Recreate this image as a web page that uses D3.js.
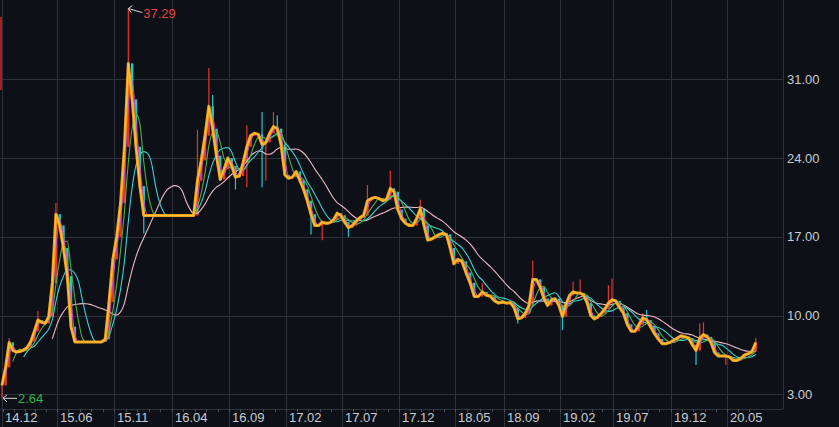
<!DOCTYPE html>
<html><head><meta charset="utf-8">
<script src="https://cdn.jsdelivr.net/npm/d3@7"></script>
<style>html,body{margin:0;padding:0;background:#0d1016;}svg{display:block}</style>
</head><body>
<svg id="c" width="839" height="427"></svg>
<script>
// ---- DATA ----
// close prices, one sample every 1/3 month starting end of Dec 2014
const closes = [
3.8,5.4,7.6,6.9,6.75,6.8,6.95,7.15,7.7,8.6,
9.6,9.4,9.3,9.9,12.9,19.0,18.0,16.0,13.5,9.0,
7.65,7.65,7.65,7.65,7.65,7.65,7.65,7.65,7.9,11.2,
15.0,17.0,20.0,25.0,32.4,29.2,25.0,21.5,18.9,18.9,
18.9,18.9,18.9,18.9,18.9,18.9,18.9,18.9,18.9,18.9,
18.9,18.9,22.0,23.8,26.0,28.6,26.6,24.2,22.1,23.0,
24.0,23.3,22.3,22.4,23.6,25.0,26.0,26.2,26.1,25.2,
25.4,26.2,26.8,26.6,25.2,22.5,22.2,22.3,22.8,22.0,
21.2,20.2,19.0,18.0,18.0,18.3,18.2,18.25,18.5,19.1,
18.9,18.3,17.8,18.0,18.4,18.7,18.9,20.2,20.4,20.5,
20.4,20.2,20.3,21.3,21.0,19.4,18.6,18.2,18.0,18.0,
18.6,19.5,18.0,16.7,16.8,17.0,17.2,17.3,17.2,16.0,
14.6,15.0,14.8,13.8,12.9,11.7,11.7,12.1,11.8,11.7,
11.3,11.1,11.2,11.1,11.15,10.7,9.7,9.8,10.2,10.9,
13.2,13.2,12.5,11.5,10.9,11.4,11.5,10.9,9.9,11.0,
11.8,12.1,12.0,12.0,11.8,11.1,10.0,9.7,9.9,10.2,
10.6,11.1,11.4,11.3,10.7,10.2,9.2,8.6,8.6,9.2,
9.8,9.6,9.0,8.4,7.9,7.5,7.5,7.6,7.8,8.0,
8.2,8.1,8.0,7.4,6.9,8.0,8.3,8.1,7.6,6.7,
6.4,6.4,6.4,6.3,6.0,6.0,6.2,6.5,6.6,6.8,
7.6];
const startMonth = 0.9;      // months after 2014-12-01
const monthsPerSample = 1/3;
// visible wicks [sample index, price]
const wickHigh = [[2,8.0],[10,10.4],[15,20.0],[34,37.29],[52,26.5],[55,32.0],[56,29.6],[65,26.9],[69,28.1],[72,28.1],[73,27.8],[97,21.6],[103,22.9],[111,20.3],[127,12.9],[140,14.9],[151,13.0],[153,13.2],[161,12.7],[162,13.3],[170,10.2],[171,10.5],[185,9.3],[186,9.4],[200,8.0]];
const wickLow = [[0,2.64],[38,17.3],[62,21.2],[65,21.4],[69,21.4],[70,22.0],[82,17.2],[85,16.7],[92,17.0],[136,9.3],[148,8.7],[184,5.6],[192,5.6]];
const tickLabels = ["14.12","15.06","15.11","16.04","16.09","17.02","17.07","17.12","18.05","18.09","19.02","19.07","19.12","20.05"];
const tickMonths = [0.9,6,11,16,21,26,31,36,41,45,50,55,60,65];
const yTicks = [3,10,17,24,31];
const maWindows = [15,7,4,2];
const maColors = ["#efb9c4","#3fd0d6","#4fb04a","#d23fd0"];
const highMark = {idx:34, value:37.29};
const lowMark = {idx:0, value:2.64};

// ---- LAYOUT ----
const W=839,H=427,plotRight=783,axisY=409;
const tickPx=[2,57,114,172,229,286,342,399,455,504,560,613,671,727];
const bg="#0d1016", grid="#2e323b", txt="#c9ccd2";
const font="'Liberation Sans', Arial, sans-serif";

const svg=d3.select("#c");
svg.append("rect").attr("width",W).attr("height",H).attr("fill",bg);

const x=d3.scaleLinear().domain(tickMonths).range(tickPx);
const y=d3.scaleLinear().domain([1.69,38.05]).range([axisY,0]);
const mOf=i=>startMonth+i*monthsPerSample;

// grid
svg.append("g").selectAll("line").data(yTicks).join("line")
  .attr("x1",0).attr("x2",plotRight).attr("y1",d=>Math.round(y(d))+0.5).attr("y2",d=>Math.round(y(d))+0.5)
  .attr("stroke",grid).attr("stroke-width",1);
svg.append("g").selectAll("line").data(tickMonths).join("line")
  .attr("x1",d=>Math.round(x(d))+0.5).attr("x2",d=>Math.round(x(d))+0.5).attr("y1",0).attr("y2",H)
  .attr("stroke",grid).attr("stroke-width",1);
svg.append("line").attr("x1",plotRight+0.5).attr("x2",plotRight+0.5).attr("y1",0).attr("y2",axisY).attr("stroke",grid);
svg.append("line").attr("x1",0).attr("x2",plotRight).attr("y1",axisY+0.5).attr("y2",axisY+0.5).attr("stroke",grid);
// minor month ticks
const months=d3.range(1,68);
svg.append("g").selectAll("line").data(months).join("line")
  .attr("x1",d=>Math.round(x(d))+0.5).attr("x2",d=>Math.round(x(d))+0.5).attr("y1",axisY).attr("y2",axisY+3)
  .attr("stroke","#4a4e57");

// labels
svg.append("g").selectAll("text").data(yTicks).join("text")
  .attr("x",plotRight+4).attr("y",d=>y(d)).attr("dy","0.35em")
  .attr("fill",txt).attr("font-family",font).attr("font-size",13)
  .text(d=>d3.format(".2f")(d));
svg.append("g").selectAll("text").data(tickLabels).join("text")
  .attr("x",(d,i)=>x(tickMonths[i])+3).attr("y",422)
  .attr("fill",txt).attr("font-family",font).attr("font-size",13)
  .text(d=>d);

// candles
const hiMap=new Map(wickHigh), loMap=new Map(wickLow);
const candles=closes.map((c,i)=>{
  const o=i>0?closes[i-1]:c;
  const hi=hiMap.has(i)?hiMap.get(i):Math.max(o,c);
  const lo=loMap.has(i)?loMap.get(i):Math.min(o,c);
  return {i,o,c,hi,lo,up:c>=o};
});
const up="#e8352c", dn="#22c9c9";
const cg=svg.append("g");
cg.selectAll("line").data(candles).join("line")
  .attr("x1",d=>x(mOf(d.i))).attr("x2",d=>x(mOf(d.i)))
  .attr("y1",d=>y(d.hi)).attr("y2",d=>y(d.lo))
  .attr("stroke",d=>d.up?up:dn).attr("stroke-width",1.2);
cg.selectAll("rect").data(candles).join("rect")
  .attr("x",d=>x(mOf(d.i))-1.2).attr("width",2.4)
  .attr("y",d=>y(Math.max(d.o,d.c))).attr("height",d=>Math.max(1,Math.abs(y(d.o)-y(d.c))))
  .attr("fill",d=>d.up?up:dn);

// moving averages
const ma=w=>closes.map((c,i)=>i<w-1?null:d3.mean(closes.slice(i-w+1,i+1)));
const line=d3.line().defined(d=>d.v!=null).x(d=>x(mOf(d.i))).y(d=>y(d.v)).curve(d3.curveMonotoneX);
maWindows.forEach((w,k)=>{
  const vals=ma(w).map((v,i)=>({i,v}));
  svg.append("path").datum(vals).attr("d",line).attr("fill","none")
    .attr("stroke",maColors[k]).attr("stroke-width",1.1);
});
const closePts=closes.map((v,i)=>({i,v}));
const lineLin=d3.line().x(d=>x(mOf(d.i))).y(d=>y(d.v));
svg.append("path").datum(closePts).attr("d",lineLin).attr("fill","none")
  .attr("stroke","#f5a020").attr("stroke-width",3).attr("stroke-linejoin","round");
svg.append("path").datum(closePts).attr("d",lineLin).attr("fill","none")
  .attr("stroke","#f7d840").attr("stroke-width",1).attr("opacity",0.7);

// high / low markers
const hx=x(mOf(highMark.idx)), hy=y(highMark.value);
svg.append("path").attr("d",`M${hx+14},${hy+4}L${hx},${hy}M${hx+4},${hy-3}L${hx},${hy}L${hx+3},${hy+4}`)
  .attr("stroke","#d8d8d8").attr("fill","none").attr("stroke-width",1);
svg.append("text").attr("x",hx+15).attr("y",hy+9).attr("fill","#e0443c")
  .attr("font-family",font).attr("font-size",13).text(highMark.value.toFixed(2));
const lx=x(mOf(lowMark.idx)), ly=y(lowMark.value);
svg.append("path").attr("d",`M${lx+15},${ly}L${lx+1},${ly}M${lx+5},${ly-3.5}L${lx+1},${ly}L${lx+5},${ly+3.5}`)
  .attr("stroke","#d8d8d8").attr("fill","none").attr("stroke-width",1);
svg.append("text").attr("x",lx+16).attr("y",ly).attr("dy","0.35em").attr("fill","#2fb54a")
  .attr("font-family",font).attr("font-size",13).text(lowMark.value.toFixed(2));

// left edge red indicator
svg.append("rect").attr("x",0).attr("y",17).attr("width",2).attr("height",73).attr("fill","#a3201c");
</script>
</body></html>
